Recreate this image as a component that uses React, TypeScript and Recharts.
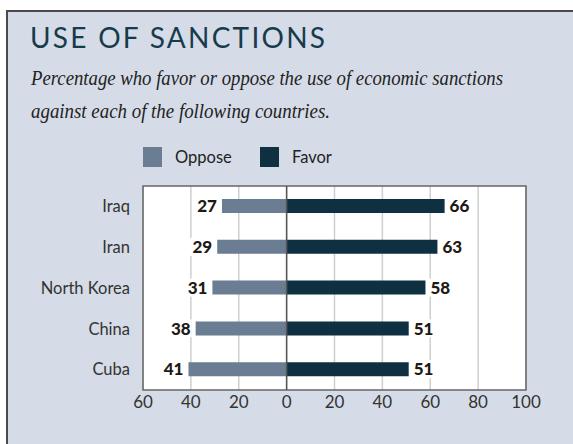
import { BarChart, Bar, XAxis, YAxis, CartesianGrid, ReferenceLine, ReferenceArea, LabelList } from 'recharts';

const countries = ['Iraq', 'Iran', 'North Korea', 'China', 'Cuba'];
const oppose = [27, 29, 31, 38, 41];
const favor = [66, 63, 58, 51, 51];
const xTicks = [-60, -40, -20, 0, 20, 40, 60, 80, 100];
const seriesNames = ['Oppose', 'Favor'];
const seriesColors = ['#6a7d92', '#0f3041'];

const data = countries.map((country, i) => ({
  country,
  oppose: oppose[i],
  favor: favor[i],
  opposeNeg: -oppose[i],
}));

const FONT = 'Lato, "Open Sans", sans-serif';
const SERIF = '"Liberation Serif", serif';

const makeLabel = (side: 'left' | 'right') => (props: any) => {
  const { x, y, width, height, value } = props;
  const left = Math.min(x, x + width);
  const right = Math.max(x, x + width);
  const text = String(value);
  const w = text.length * 10.5 + 4;
  const cy = y + height / 2;
  const tx = side === 'left' ? left - 5 : right + 5;
  const rx = side === 'left' ? tx - w + 1 : tx - 2;
  return (
    <g>
      <rect x={rx} y={cy - 9} width={w} height={18} fill="#fff" />
      <text
        x={tx}
        y={cy}
        dy="0.36em"
        textAnchor={side === 'left' ? 'end' : 'start'}
        fontFamily={FONT}
        fontWeight={900}
        fontSize={17}
        fill="#1e1a16"
      >
        {text}
      </text>
    </g>
  );
};

export default function App() {
  return (
    <div style={{ position: 'absolute', left: 0, top: 0, width: 573, height: 444, overflow: 'hidden', background: '#fff' }}>
      <div
        style={{
          position: 'absolute',
          left: 6,
          top: 10,
          width: 620,
          height: 500,
          background: '#d5dce7',
          border: '2px solid #4a4a4a',
        }}
      />
      <div style={{ position: 'absolute', left: 0, top: 0 }}>
        <BarChart
          width={573}
          height={444}
          data={data}
          layout="vertical"
          stackOffset="sign"
          barSize={14}
          margin={{ top: 186, right: 47, bottom: 24, left: 8 }}
        >
          <CartesianGrid horizontal={false} stroke="#cfcfcf" strokeWidth={1.5} fill="#fff" />
          <XAxis
            type="number"
            domain={[-60, 100]}
            ticks={xTicks}
            tickFormatter={(v: number) => String(Math.abs(v))}
            axisLine={false}
            tickLine={false}
            tickSize={0}
            tickMargin={6}
            height={30}
            interval={0}
            tick={{ fontFamily: FONT, fontSize: 17, fill: '#333' }}
          />
          <YAxis
            type="category"
            dataKey="country"
            width={135}
            axisLine={false}
            tickLine={false}
            tickSize={0}
            tickMargin={13}
            tick={{ fontFamily: FONT, fontSize: 16.5, fill: '#333' }}
          />
          <Bar dataKey="opposeNeg" stackId="a" fill={seriesColors[0]} isAnimationActive={false}>
            <LabelList dataKey="oppose" content={makeLabel('left')} />
          </Bar>
          <Bar dataKey="favor" stackId="a" fill={seriesColors[1]} isAnimationActive={false}>
            <LabelList dataKey="favor" content={makeLabel('right')} />
          </Bar>
          <ReferenceLine x={0} stroke="#555" strokeWidth={1.5} />
          <ReferenceArea x1={-60} x2={100} fill="none" fillOpacity={0} stroke="#666" strokeWidth={1.5} />
        </BarChart>
      </div>
      <svg width={573} height={444} style={{ position: 'absolute', left: 0, top: 0, pointerEvents: 'none' }}>
        <text x={30} y={48} fontFamily={FONT} fontSize={28} fill="#173b4c" textLength={295}>
          USE OF SANCTIONS
        </text>
        <text x={31} y={85} fontFamily={SERIF} fontStyle="italic" fontSize={20} fill="#222" textLength={472} lengthAdjust="spacingAndGlyphs">
          Percentage who favor or oppose the use of economic sanctions
        </text>
        <text x={31} y={118} fontFamily={SERIF} fontStyle="italic" fontSize={20} fill="#222" textLength={299} lengthAdjust="spacingAndGlyphs">
          against each of the following countries.
        </text>
        {seriesNames.map((name, i) => {
          const x0 = i === 0 ? 143 : 260;
          return (
            <g key={name}>
              <rect x={x0} y={147} width={19} height={20} fill={seriesColors[i]} />
              <text x={x0 + 32} y={157} dy="0.36em" fontFamily={FONT} fontSize={16.5} fill="#222">
                {name}
              </text>
            </g>
          );
        })}
      </svg>
    </div>
  );
}
